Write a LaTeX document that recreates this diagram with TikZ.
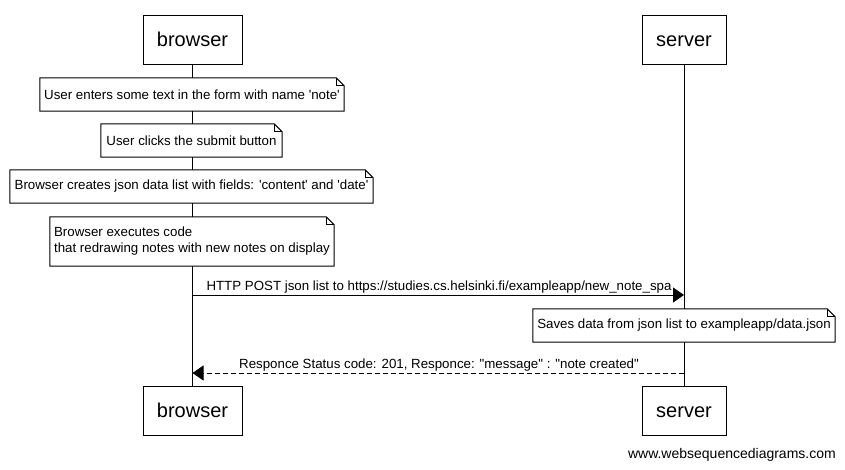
\documentclass[tikz,border=0pt]{standalone}
\usepackage{fontspec}
\setmainfont{Liberation Sans}[Ligatures=TeXOff]
\usetikzlibrary{arrows.meta}
\tikzset{
  actor/.style={draw, line width=1pt, rectangle, minimum width=99pt, minimum height=49pt, inner sep=0pt, text height=14.3pt, text depth=0pt, font=\fontsize{20}{24}\selectfont},
  notebox/.style={rectangle, fill=white, inner sep=0pt, align=left, font=\fontsize{13.3}{16}\selectfont},
  noteline/.style={line width=1pt, line join=miter},
  life/.style={line width=1pt},
  msg/.style={line width=1pt, -{Triangle[length=11pt,width=15pt]}},
  reply/.style={msg, dash pattern=on 5pt off 3pt},
  msglabel/.style={font=\fontsize{13.3}{16}\selectfont, inner sep=0pt}
}
\newcommand{\drawnote}[1]{%
  \draw[noteline] (#1.north west) -- ([xshift=-8pt]#1.north east) -- ([yshift=-8pt]#1.north east) -- (#1.south east) -- (#1.south west) -- cycle;
  \draw[noteline] ([xshift=-8pt]#1.north east) |- ([yshift=-8pt]#1.north east);}
\begin{document}
\begin{tikzpicture}[x=1pt,y=-1pt]
\useasboundingbox (0,0) rectangle (845,469);
% participants
\node[actor] (bt) at (192.5,39.5) {browser};
\node[actor, minimum width=84pt] (st) at (684,39.5) {server};
\node[actor] (bb) at (192.5,410.5) {browser};
\node[actor, minimum width=84pt] (sb) at (684,410.5) {server};
% lifelines
\draw[life] (bt.south) -- (bb.north);
\draw[life] (st.south) -- (sb.north);
% notes
\node[notebox, minimum width=304pt, minimum height=33pt] (n1) at (192,94.5) {User enters some text in the form with name 'note'};
\drawnote{n1}
\node[notebox, minimum width=181pt, minimum height=33pt] (n2) at (191.5,140.5) {User clicks the submit button};
\drawnote{n2}
\node[notebox, minimum width=363pt, minimum height=33pt] (n3) at (191.5,186.5) {Browser creates json data list with fields: 'content' and 'date'};
\drawnote{n3}
\node[notebox, minimum width=284pt, minimum height=49pt] (n4) at (192,241.5) {Browser executes code\\that redrawing notes with new notes on display};
\drawnote{n4}
% messages
\coordinate (m1s) at (192.5,295);
\coordinate (m1e) at (684,295);
\draw[msg] (m1s) -- (m1e);
\node[msglabel] (l1) at (439,287) {HTTP POST json list to https://studies.cs.helsinki.fi/exampleapp/new\_note\_spa};
\node[notebox, minimum width=302pt, minimum height=33pt] (n5) at (684,325.5) {Saves data from json list to exampleapp/data.json};
\drawnote{n5}
\coordinate (m2s) at (684,373);
\coordinate (m2e) at (192.5,373);
\draw[reply] (m2s) -- (m2e);
\node[msglabel] (l2) at (439,365) {Responce Status code: 201, Responce: "message" : "note created"};
% footer
\node[anchor=east, inner sep=0pt, font=\fontsize{14}{17}\selectfont] (foot) at (836,455) {www.websequencediagrams.com};
\end{tikzpicture}
\end{document}
